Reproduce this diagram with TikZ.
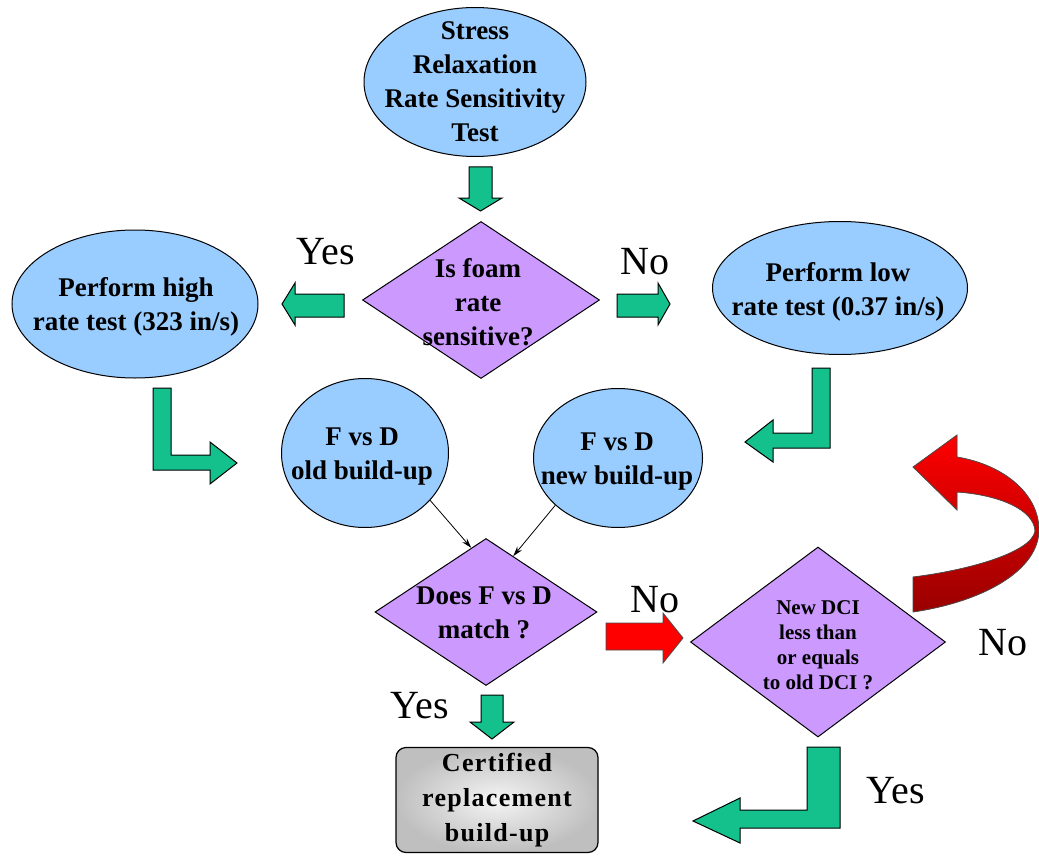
\documentclass[tikz,border=0pt]{standalone}
\usepackage{fontspec}
\setmainfont{Liberation Serif}
\usetikzlibrary{shapes.geometric,arrows.meta}
\definecolor{bluex}{RGB}{153,204,255}
\definecolor{purx}{RGB}{204,153,255}
\definecolor{grnx}{RGB}{20,192,140}
\colorlet{redx}{red}
\tikzset{
    bubble/.style={ellipse,draw,fill=bluex,line width=1pt,inner sep=0pt},
    query/.style={diamond,draw,fill=purx,line width=1pt,inner sep=0pt},
    plate/.style={rectangle,rounded corners=10pt,draw,line width=1.2pt,inner color=gray!8,outer color=gray!50},
    word/.style={align=center,inner sep=0pt,font=\bfseries\fontsize{27}{34}\selectfont},
    smallword/.style={align=center,inner sep=0pt,font=\bfseries\fontsize{21}{25}\selectfont},
    plateword/.style={align=center,inner sep=0pt,font=\bfseries\addfontfeatures{LetterSpace=5}\fontsize{26}{35}\selectfont},
    answer/.style={inner sep=0pt,font=\fontsize{40}{44}\selectfont},
    fat/.style={fill=grnx,draw=black,line width=1pt,line join=miter},
    hot/.style={fill=redx,draw=black!70,line width=0.8pt},
    thin/.style={draw=black,line width=0.8pt,-{Stealth[length=10pt,width=6pt]}}
}
\begin{document}
\begin{tikzpicture}[x=1pt,y=-1pt]
    \useasboundingbox[fill=white] (0,0) rectangle (1039,856);
    \node [bubble,minimum width=222pt,minimum height=149pt] (stress) at (475,82) {};
    \node [word] (stressTxt) at (stress) {Stress\\Relaxation\\Rate Sensitivity\\Test};
    \node [query,minimum width=237pt,minimum height=157pt] (q1) at (481,300) {};
    \node [word] (q1Txt) at (478,302) {Is foam\\rate\\sensitive?};
    \node [bubble,minimum width=246pt,minimum height=148pt] (high) at (135,304) {};
    \node [word] (highTxt) at (136,307) {Perform high\\rate test (323 in/s)};
    \node [bubble,minimum width=255pt,minimum height=133pt] (low) at (840,288) {};
    \node [word] (lowTxt) at (838,292) {Perform low\\rate test (0.37 in/s)};
    \node [bubble,minimum width=167pt,minimum height=149pt] (old) at (365,453) {};
    \node [word] (oldTxt) at (362,457) {F vs D\\old build-up};
    \node [bubble,minimum width=169pt,minimum height=139pt] (new) at (618,458) {};
    \node [word] (newTxt) at (617,462) {F vs D\\new build-up};
    \node [query,minimum width=222pt,minimum height=147pt] (q2) at (486,612) {};
    \node [word] (q2Txt) at (484,613) {Does F vs D\\match ?};
    \node [query,minimum width=255pt,minimum height=190pt] (q3) at (818,642) {};
    \node [smallword] (q3Txt) at (818,645) {New DCI\\less than\\or equals\\to old DCI ?};
    \node [plate,minimum width=202pt,minimum height=105pt] (cert) at (497,800) {};
    \node [plateword] (certTxt) at (cert) {Certified\\replacement\\build-up};
    \node [answer] (yesA) at (326,252) {Yes};
    \node [answer] (noA) at (645,262) {No};
    \node [answer] (noB) at (655,600) {No};
    \node [answer] (noC) at (1003,643) {No};
    \node [answer] (yesB) at (420,706) {Yes};
    \node [answer] (yesC) at (896,791) {Yes};
    \draw [fat] (469,167) -- (492,167) -- (492,198) -- (502,198) -- (480.5,211)
        -- (459,198) -- (469,198) -- cycle;
    \draw [fat] (344,294) -- (344,317) -- (295,317) -- (295,325) -- (282,304)
        -- (295,283) -- (295,294) -- cycle;
    \draw [fat] (617,294) -- (658,294) -- (658,283) -- (670,304) -- (658,325)
        -- (658,317) -- (617,317) -- cycle;
    \draw [fat] (153,388) -- (171,388) -- (171,455) -- (210,455) -- (210,442)
        -- (237,463) -- (210,484) -- (210,470) -- (153,470) -- cycle;
    \draw [fat] (812,368) -- (830,368) -- (830,448) -- (773,448) -- (773,462)
        -- (745,442) -- (773,420) -- (773,433) -- (812,433) -- cycle;
    \draw [fat] (481,695) -- (503,695) -- (503,722) -- (514,722) -- (492,739)
        -- (470,722) -- (481,722) -- cycle;
    \draw [fat] (807,747) -- (840,747) -- (840,828) -- (740,828) -- (740,843)
        -- (693,821) -- (740,798) -- (740,810) -- (807,810) -- cycle;
    \draw [hot] (606,623) -- (663,623) -- (663,613) -- (683,638) -- (663,663)
        -- (663,650) -- (606,650) -- cycle;
    \draw [hot,top color=redx,bottom color=red!60!black] (913,467) -- (957,435) -- (957,457)
        .. controls (1005,465) and (1040,495) .. (1039,532)
        .. controls (1036,575) and (975,603) .. (913,612)
        -- (913,577)
        .. controls (970,570) and (1032,552) .. (1035,531)
        .. controls (1034,510) and (1000,495) .. (957,492)
        -- (957,510) -- cycle;
    \draw [thin] (old.-36) -- (q2.103);
    \draw [thin] (new.-143) -- (q2.64);
\end{tikzpicture}
\end{document}
